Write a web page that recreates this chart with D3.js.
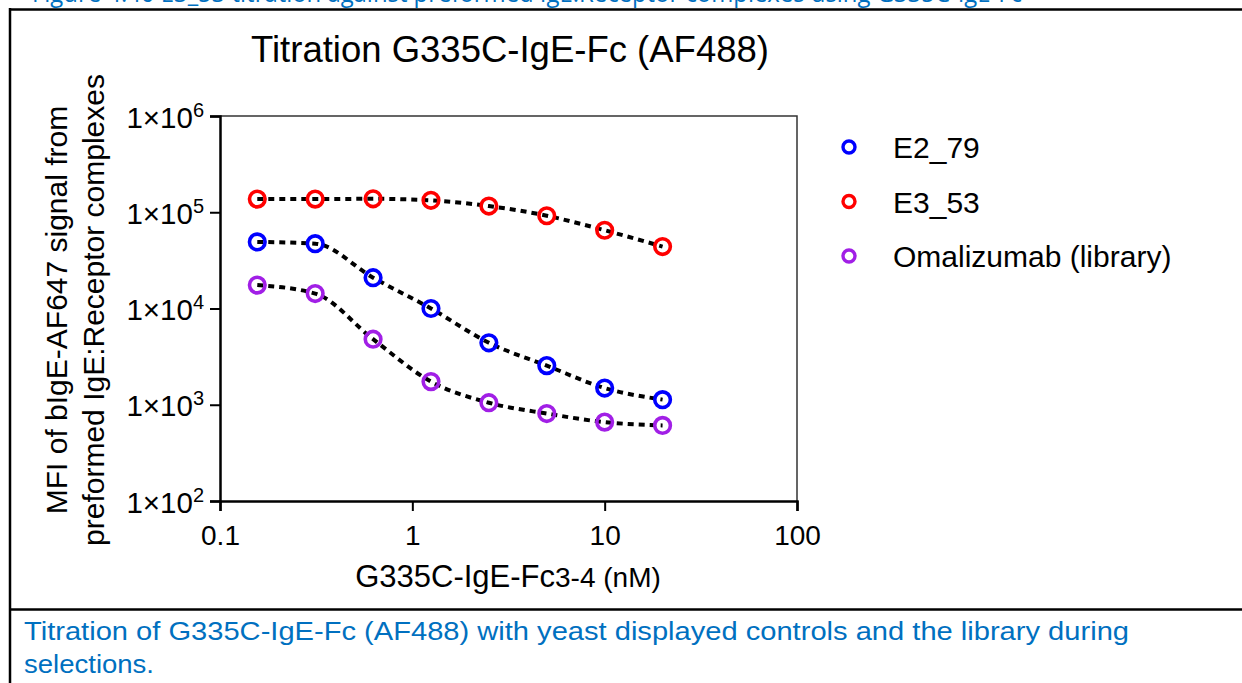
<!DOCTYPE html>
<html>
<head>
<meta charset="utf-8">
<script src="https://cdn.jsdelivr.net/npm/d3@7"></script>
<style>
  body { margin: 0; background: #fff; }
  svg { display: block; }
  text { font-family: "Liberation Sans", Arial, sans-serif; }
</style>
</head>
<body>
<svg id="chart" width="1242" height="683"></svg>
<script>
// concentrations (nM), two-fold dilution series
const conc = [0.15625, 0.3125, 0.625, 1.25, 2.5, 5, 10, 20];
const e2_79 = [49200, 47200, 20900, 10000, 4400, 2550, 1490, 1130];
const e3_53 = [137000, 137000, 138000, 133000, 116000, 92000, 65000, 44000];
const omalizumab = [17500, 14300, 4800, 1740, 1050, 810, 660, 610];

const seriesNames = ['E2_79', 'E3_53', 'Omalizumab (library)'];
const seriesColors = ['#0000ff', '#ff0000', '#a11fe6'];
const seriesValues = [e2_79, e3_53, omalizumab];

const xTicks = [0.1, 1, 10, 100];
const yTicks = [1e2, 1e3, 1e4, 1e5, 1e6];

const svg = d3.select('#chart');
svg.append('rect').attr('width', 1242).attr('height', 683).attr('fill', '#fff');

// table borders around the figure
svg.append('line').attr('x1', 10).attr('x2', 1242).attr('y1', 9.5).attr('y2', 9.5)
  .attr('stroke', '#000').attr('stroke-width', 2.5);
svg.append('line').attr('x1', 10).attr('x2', 1242).attr('y1', 609.5).attr('y2', 609.5)
  .attr('stroke', '#000').attr('stroke-width', 2.5);
svg.append('line').attr('x1', 10).attr('x2', 10).attr('y1', 8).attr('y2', 683)
  .attr('stroke', '#000').attr('stroke-width', 2.5);

// cut-off caption of the previous figure at the very top
svg.append('text').attr('x', 32).attr('y', 2)
  .attr('fill', '#0070c0').style('font-family', '"Open Sans", sans-serif').attr('font-size', 26)
  .attr('textLength', 990).attr('lengthAdjust', 'spacingAndGlyphs')
  .text('Figure 4.40 E3_53 titration against preformed IgE:Receptor complexes using G335C-IgE-Fc');

const x = d3.scaleLog().domain([0.1, 100]).range([220, 797]);
const y = d3.scaleLog().domain([100, 1e6]).range([501, 116]);

// minor ticks
const xMinor = [];
for (let d = 0.1; d < 100; d *= 10) for (let k = 2; k <= 9; k++) xMinor.push(d * k);
const yMinor = [];
for (let d = 100; d < 1e6; d *= 10) for (let k = 2; k <= 9; k++) yMinor.push(d * k);

// plot frame (top and right)
svg.append('path')
  .attr('d', `M${x(0.1)},${y(1e6)}H${x(100)}V${y(100)}`)
  .attr('fill', 'none').attr('stroke', '#333').attr('stroke-width', 1.5);

const gx = svg.append('g').attr('transform', `translate(0,${y(100)})`);
gx.call(d3.axisBottom(x).tickValues(xMinor).tickSize(5).tickFormat(''));
gx.call(d3.axisBottom(x).tickValues(xTicks).tickSize(10).tickFormat(d3.format('')));
gx.selectAll('path.domain').attr('stroke-width', 2.5);
gx.selectAll('line').attr('stroke-width', 2);
gx.selectAll('text').attr('font-size', 28).attr('fill', '#000').attr('dy', null).attr('y', 44);

const gy = svg.append('g').attr('transform', `translate(${x(0.1)},0)`);
gy.call(d3.axisLeft(y).tickValues(yMinor).tickSize(5).tickFormat(''));
gy.call(d3.axisLeft(y).tickValues(yTicks).tickSize(10).tickFormat(''));
gy.selectAll('path.domain').attr('stroke-width', 2.5);
gy.selectAll('line').attr('stroke-width', 2);
gy.selectAll('.tick').filter(d => yTicks.includes(d)).each(function(d) {
  const t = d3.select(this).append('text')
    .attr('x', -16).attr('y', 11).attr('text-anchor', 'end')
    .attr('fill', '#000').attr('font-size', 29.5);
  t.append('tspan').text('1\u00d710');
  t.append('tspan').attr('font-size', 20).attr('dy', -11).text(Math.round(Math.log10(d)));
});

// dotted fit lines
const line = d3.line()
  .x(d => x(d[0])).y(d => y(d[1]))
  .curve(d3.curveMonotoneX);

seriesValues.forEach(vals => {
  const pts = conc.map((c, i) => [c, vals[i]]);
  svg.append('path').datum(pts)
    .attr('d', line)
    .attr('fill', 'none').attr('stroke', '#000')
    .attr('stroke-width', 4).attr('stroke-dasharray', '6,5');
});

seriesValues.forEach((vals, s) => {
  svg.append('g').selectAll('circle')
    .data(conc.map((c, i) => [c, vals[i]]))
    .join('circle')
    .attr('cx', d => x(d[0])).attr('cy', d => y(d[1]))
    .attr('r', 7.8).attr('fill', 'none')
    .attr('stroke', seriesColors[s]).attr('stroke-width', 3.6);
});

// legend
const legend = svg.append('g').attr('transform', 'translate(849,147)');
seriesNames.forEach((name, i) => {
  const row = legend.append('g').attr('transform', `translate(0,${i * 54.5})`);
  row.append('circle').attr('r', 6).attr('fill', 'none')
    .attr('stroke', seriesColors[i]).attr('stroke-width', 3.4);
  row.append('text').attr('x', 44).attr('y', 11).attr('font-size', 30).text(name);
});

// title
svg.append('text').attr('x', 510).attr('y', 62).attr('text-anchor', 'middle')
  .attr('font-size', 36.5).text('Titration G335C-IgE-Fc (AF488)');

// axis titles
const xt = svg.append('text').attr('x', 508).attr('y', 587).attr('text-anchor', 'middle');
xt.append('tspan').attr('font-size', 31).text('G335C-IgE-Fc');
xt.append('tspan').attr('font-size', 28).text('3-4 (nM)');

svg.append('text').attr('transform', 'translate(67,310) rotate(-90)')
  .attr('text-anchor', 'middle').attr('font-size', 30)
  .text('MFI of bIgE-AF647 signal from');
svg.append('text').attr('transform', 'translate(104,310) rotate(-90)')
  .attr('text-anchor', 'middle').attr('font-size', 30)
  .text('preformed IgE:Receptor complexes');

// caption
const cap = svg.append('g').style('font-family', '"Open Sans", sans-serif')
  .attr('fill', '#0070c0').attr('font-size', 26);
cap.append('text').attr('x', 24).attr('y', 640)
  .attr('textLength', 1105).attr('lengthAdjust', 'spacingAndGlyphs')
  .text('Titration of G335C-IgE-Fc (AF488) with yeast displayed controls and the library during');
cap.append('text').attr('x', 24).attr('y', 673)
  .attr('textLength', 130).attr('lengthAdjust', 'spacingAndGlyphs')
  .text('selections.');
</script>
</body>
</html>
